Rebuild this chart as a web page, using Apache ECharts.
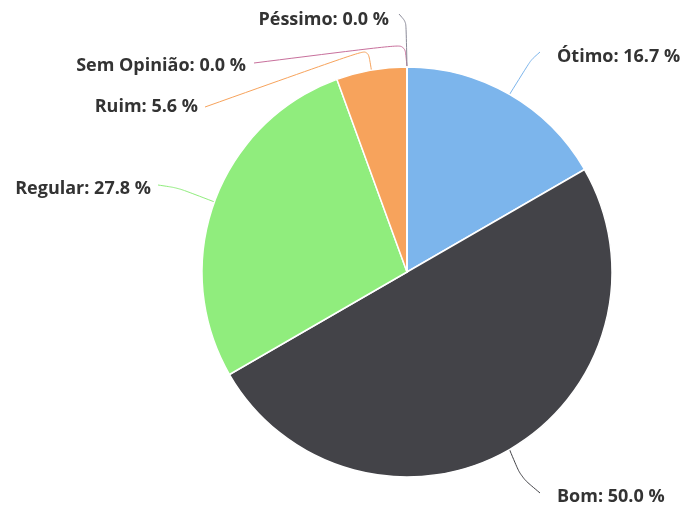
<!DOCTYPE html>
<html>
<head>
<meta charset="utf-8">
<script src="https://cdn.jsdelivr.net/npm/echarts@6/dist/echarts.min.js"></script>
<style>
  html, body { margin: 0; padding: 0; background: #fff; }
  #chart { width: 687px; height: 508px; }
</style>
</head>
<body>
<div id="chart"></div>
<script>
var chart = echarts.init(document.getElementById('chart'));

// dados (respostas)
var categorias = ['Ótimo', 'Bom', 'Regular', 'Ruim', 'Sem Opinião', 'Péssimo'];
var valores = [3, 9, 5, 1, 0, 0];
var cores = ['#7cb5ec', '#434348', '#90ed7d', '#f7a35c', '#c8709c', '#8a8a98'];

var total = valores.reduce(function (a, b) { return a + b; }, 0);

// onde fica cada rótulo + 2 pontos do conector (depois da âncora)
var rotulos = [
    {x: 557, y: 57, align: 'left', linha: [[531, 60], [540, 52]]},
    {x: 557, y: 497, align: 'left', linha: [[521, 477], [540, 493]]},
    {x: 151, y: 189, align: 'right', linha: [[178, 188], [158, 185]]},
    {x: 198, y: 107, align: 'right', linha: [[368, 49], [205, 107]]},
    {x: 246, y: 66, align: 'right', linha: [[405, 44], [254, 63]]},
    {x: 389, y: 20, align: 'right', linha: [[406, 22], [399, 14]]}
];

var dados = categorias.map(function (nome, i) {
    return {
        name: nome,
        value: valores[i],
        itemStyle: {color: cores[i]},
        labelLine: {lineStyle: {color: cores[i]}}
    };
});

var option = {
    backgroundColor: '#fff',
    animation: false,
    series: [{
        type: 'pie',
        center: [407, 272],
        radius: 205,
        startAngle: 90,
        clockwise: true,
        minShowLabelAngle: 0,
        avoidLabelOverlap: false,
        itemStyle: {borderColor: '#fff', borderWidth: 1.5},
        label: {
            show: true,
            position: 'outside',
            color: '#333',
            fontWeight: 'bold',
            fontSize: 18,
            fontFamily: 'Open Sans',
            formatter: function (p) {
                var pct = total ? p.value / total * 100 : 0;
                return p.name + ': ' + pct.toFixed(1) + ' %';
            }
        },
        labelLine: {show: true, smooth: 0.25, length: 20, length2: 20, lineStyle: {width: 1}},
        labelLayout: function (p) {
            var r = rotulos[p.dataIndex];
            var ancora = (p.labelLinePoints && p.labelLinePoints[0]) || [407, 67];
            return {
                x: r.x, y: r.y, align: r.align, verticalAlign: 'middle',
                labelLinePoints: [[ancora[0], ancora[1]]].concat(r.linha)
            };
        },
        emphasis: {disabled: true},
        data: dados
    }]
};
chart.setOption(option);
</script>
</body>
</html>
